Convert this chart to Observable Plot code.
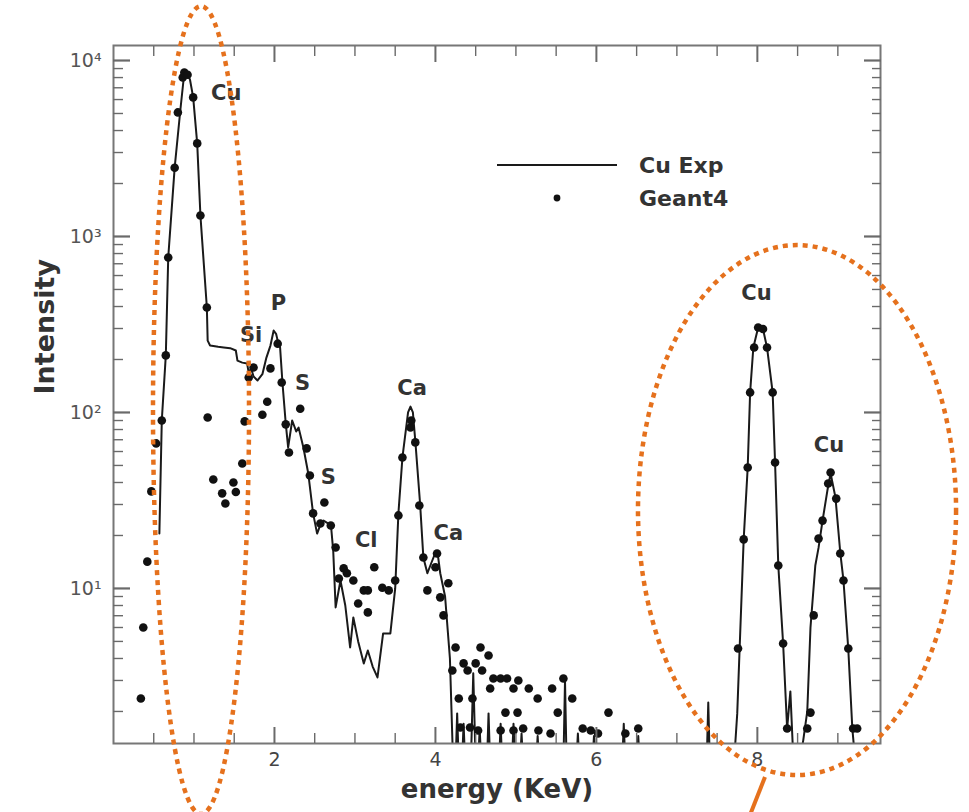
<!DOCTYPE html>
<html><head><meta charset="utf-8">
<script src="https://cdn.jsdelivr.net/npm/d3@7"></script>
<script src="https://cdn.jsdelivr.net/npm/@observablehq/plot@0.6"></script>
<style>
html,body{margin:0;padding:0;background:#fff;}
#wrap{position:relative;width:969px;height:812px;overflow:hidden;}
#wrap svg{position:absolute;left:0;top:0;}
</style></head><body><div id="wrap"></div>
<script>
// Series: experimental Cu spectrum (line) — [energy keV, intensity]
const cuExp = [[0.57,20.5],[0.60,90],[0.65,211],[0.68,760],[0.76,2460],[0.83,5200],[0.88,8550],[0.92,8300],[0.95,7800],[0.99,6170],[1.04,3380],[1.08,1315],[1.16,395],[1.17,256],[1.20,240],[1.30,236],[1.37,234],[1.45,232],[1.52,225],[1.54,197],[1.60,192],[1.66,190],[1.68,168],[1.71,178],[1.74,160],[1.79,152],[1.85,165],[1.90,205],[1.95,240],[1.99,292],[2.02,280],[2.04,256],[2.07,234],[2.10,146],[2.14,86.7],[2.17,63.3],[2.22,90],[2.27,78],[2.30,82],[2.36,63],[2.42,45],[2.48,26.7],[2.53,20.5],[2.57,23],[2.61,24.3],[2.66,23.5],[2.70,23.4],[2.73,16.4],[2.76,7.8],[2.82,11.1],[2.88,8],[2.94,4.62],[2.98,6.84],[3.04,5],[3.11,3.75],[3.16,4.44],[3.22,3.6],[3.28,3.12],[3.35,5.55],[3.44,5.55],[3.50,10],[3.54,26.7],[3.59,55.5],[3.66,100],[3.69,108],[3.72,100],[3.75,69],[3.81,30],[3.85,15],[3.90,12.2],[3.95,14],[4.00,16],[4.03,15.5],[4.06,12.2],[4.12,9],[4.18,4],[4.22,1.0],[4.25,1.0],[4.27,1.95],[4.29,1.0],[4.33,1.0],[4.35,1.7],[4.37,1.0],[4.44,1.0],[4.47,3.3],[4.50,1.0],[4.53,1.0],[4.55,1.6],[4.57,1.0],[4.64,1.0],[4.66,1.95],[4.68,1.0],[4.79,1.0],[4.81,1.7],[4.83,1.0],[4.95,1.0],[4.97,1.7],[4.99,1.0],[5.05,1.0],[5.07,1.5],[5.09,1.0],[5.25,1.0],[5.27,1.45],[5.29,1.0],[5.59,1.0],[5.61,3.0],[5.63,1.0],[5.75,1.0],[5.77,1.5],[5.79,1.0],[5.95,1.0],[5.97,1.45],[5.99,1.0],[6.32,1.0],[6.34,1.7],[6.36,1.0],[6.50,1.0],[6.52,1.45],[6.54,1.0],[7.37,1.0],[7.39,2.25],[7.41,1.0],[7.66,1.0],[7.69,1.3],[7.72,1.2],[7.75,1.95],[7.78,4.6],[7.83,19],[7.88,48.7],[7.91,130],[7.95,234],[8.01,304],[8.07,298],[8.12,234],[8.19,130],[8.22,52],[8.26,13.5],[8.32,4.87],[8.37,1.6],[8.41,2.6],[8.45,1.0],[8.52,1.0],[8.57,1.37],[8.62,2.0],[8.66,6.0],[8.72,13.5],[8.76,17],[8.81,24.3],[8.87,36],[8.91,45],[8.97,33],[9.03,16],[9.07,11.1],[9.13,4.5],[9.18,1.6],[9.22,1.0]];

// Series: Geant4 simulation (points) — [energy keV, intensity]
const geant4 = [[0.34,2.37],[0.37,6.0],[0.42,14.2],[0.47,35.6],[0.53,66.7],[0.60,90],[0.65,211],[0.68,760],[0.76,2460],[0.80,5070],[0.86,8000],[0.88,8550],[0.92,8300],[0.99,6170],[1.04,3380],[1.08,1315],[1.16,395],[1.17,93.7],[1.24,41.6],[1.35,34.7],[1.39,30.4],[1.49,40],[1.52,35.3],[1.60,51.3],[1.63,89],[1.68,158],[1.74,180],[1.85,97],[1.91,115],[1.95,178],[2.04,246],[2.09,148],[2.14,85.6],[2.18,59.2],[2.32,105],[2.40,62.5],[2.44,43.8],[2.48,26.7],[2.57,23.4],[2.62,30.8],[2.70,22.8],[2.76,17.1],[2.80,11.4],[2.86,13.0],[2.90,12.2],[2.98,11.1],[3.04,8.22],[3.11,9.75],[3.16,9.75],[3.16,7.31],[3.24,13.2],[3.34,10.1],[3.42,9.75],[3.50,11.1],[3.54,26],[3.59,55.5],[3.69,82.2],[3.70,90],[3.75,67.6],[3.80,29.6],[3.85,15],[3.90,9.75],[4.00,13.2],[4.02,15.8],[4.06,8.9],[4.10,7.03],[4.16,10.7],[4.21,3.42],[4.25,4.62],[4.29,2.37],[4.31,1.62],[4.35,3.75],[4.40,3.42],[4.43,1.62],[4.46,2.37],[4.50,3.75],[4.53,1.56],[4.56,4.62],[4.58,3.42],[4.66,4.16],[4.68,2.70],[4.72,3.08],[4.81,3.08],[4.81,1.56],[4.87,1.97],[4.89,3.08],[4.97,2.70],[4.97,1.56],[5.02,1.97],[5.03,3.0],[5.09,1.60],[5.16,2.70],[5.27,2.37],[5.28,1.56],[5.43,1.50],[5.45,2.70],[5.52,1.97],[5.59,3.08],[5.70,2.37],[5.83,1.60],[5.93,1.56],[6.02,1.50],[6.15,1.97],[6.36,1.50],[6.52,1.60],[7.76,4.56],[7.83,19],[7.88,48.7],[7.91,130],[7.96,234],[8.01,304],[8.07,298],[8.12,234],[8.19,130],[8.22,52],[8.26,13.5],[8.32,4.87],[8.37,1.6],[8.62,1.6],[8.66,1.97],[8.70,7.03],[8.76,19.2],[8.81,24.3],[8.88,39.5],[8.91,45.6],[8.98,32.4],[9.03,15.8],[9.07,11.1],[9.13,4.56],[9.19,1.6],[9.24,1.6]];

// Peak annotations
const peakNames = ["Cu","Si","P","S","S","Ca","Cl","Ca","Cu","Cu"];
const peakEnergy = [1.40,1.71,2.05,2.35,2.67,3.71,3.14,4.16,7.99,8.89];
const peakIntensity = [6490,274,416,146,42.7,137,18.7,20.5,474,64.9];

// Axes
const xMajor = [2,4,6,8];
const xMinor = [0.5,1,1.5,2.5,3,3.5,4.5,5,5.5,6.5,7,7.5,8.5,9];
const yMajor = [10,100,1000,10000];
const yMinor = [2,3,4,5,6,7,8,9,20,30,40,50,60,70,80,90,200,300,400,500,600,700,800,900,2000,3000,4000,5000,6000,7000,8000,9000];
const xLabel = "energy (KeV)";
const yLabel = "Intensity";
const seriesNames = ["Cu Exp","Geant4"];

// Highlight ellipses (energy range, intensity range) and pointer segment
const ellipseEnergy = [[0.497,1.690],[6.523,10.475]];
const ellipseIntensity = [[20240,0.519],[888,0.865]];
const pointerEnergy = [8.101,7.915];
const pointerIntensity = [0.843,0.513];

const sup = {1:"\u00b9",2:"\u00b2",3:"\u00b3",4:"\u2074"};
const font = "'DejaVu Sans', sans-serif";
const lineData = cuExp.map(([e,v]) => ({e, v}));
const dotData = geant4.map(([e,v]) => ({e, v}));
const peakData = peakNames.map((n,i) => ({n, e: peakEnergy[i], v: peakIntensity[i]}));

const tickStyle = {fill: "none", stroke: "#6a6a6a", label: null};
const chart = Plot.plot({
  width: 969, height: 812,
  marginLeft: 113, marginRight: 89, marginTop: 45, marginBottom: 69,
  style: {background: "white", fontFamily: font, overflow: "visible"},
  x: {domain: [0, 9.53]},
  y: {type: "log", domain: [1.315, 12170]},
  marks: [
    Plot.line(lineData, {x: "e", y: "v", stroke: "#1a1a1a", strokeWidth: 2, clip: true}),
    Plot.dot(dotData, {x: "e", y: "v", r: 4.3, fill: "#111", stroke: "none", clip: true}),
    Plot.text(peakData, {x: "e", y: "v", text: "n", fontSize: 21, fontWeight: "bold", fill: "#333"}),
    Plot.frame({stroke: "#777", strokeWidth: 2}),
    Plot.axisY(yMajor, {anchor: "left", tickSize: 0, tickPadding: 12, tickFormat: d => "10" + sup[Math.round(Math.log10(d))], fontSize: 19, fill: "#555", label: null}),
    Plot.axisY(yMajor, {anchor: "left", tickSize: -17, strokeWidth: 2.2, ...tickStyle}),
    Plot.axisY(yMinor, {anchor: "left", tickSize: -10, strokeWidth: 1.4, ...tickStyle}),
    Plot.axisY(yMajor, {anchor: "right", tickSize: -17, strokeWidth: 2.2, ...tickStyle}),
    Plot.axisY(yMinor, {anchor: "right", tickSize: -9, strokeWidth: 1.4, ...tickStyle}),
    Plot.axisX(xMajor, {anchor: "bottom", tickSize: 0, tickPadding: 9, fontSize: 19, fill: "#444", label: null}),
    Plot.axisX(xMajor, {anchor: "bottom", tickSize: -16, strokeWidth: 2, ...tickStyle}),
    Plot.axisX(xMinor, {anchor: "bottom", tickSize: -10, strokeWidth: 1.4, ...tickStyle}),
    Plot.axisX(xMajor, {anchor: "top", tickSize: -16, strokeWidth: 2, ...tickStyle}),
    Plot.axisX(xMinor, {anchor: "top", tickSize: -10, strokeWidth: 1.4, ...tickStyle}),
    Plot.text([xLabel], {text: d => d, frameAnchor: "bottom", dy: 54, fontSize: 26, fontWeight: "bold", fill: "#333"}),
    Plot.text([yLabel], {text: d => d, frameAnchor: "left", dx: -68, rotate: -90, fontSize: 27, fontWeight: "bold", fill: "#333"})
  ]
});
const wrap = document.getElementById("wrap");
wrap.appendChild(chart);

const sx = chart.scale("x"), sy = chart.scale("y");
const ov = d3.select(wrap).append("svg").attr("width", 969).attr("height", 812)
  .style("pointer-events", "none").style("font-family", font);

// legend
const lg = ov.append("g");
lg.append("line").attr("x1", 497).attr("x2", 617).attr("y1", 165).attr("y2", 165).attr("stroke", "#1a1a1a").attr("stroke-width", 2.2);
lg.append("circle").attr("cx", 557).attr("cy", 198).attr("r", 3.4).attr("fill", "#111");
lg.selectAll("text").data(seriesNames).join("text")
  .attr("x", 639).attr("y", (d, i) => 165 + i * 33).attr("dy", "0.36em")
  .attr("font-size", 22).attr("font-weight", "bold").attr("fill", "#333").text(d => d);

// orange highlight ellipses
const orange = "#e5711d";
ellipseEnergy.forEach((er, i) => {
  const x0 = sx.apply(er[0]), x1 = sx.apply(er[1]);
  const y0 = sy.apply(ellipseIntensity[i][0]), y1 = sy.apply(ellipseIntensity[i][1]);
  ov.append("ellipse").attr("cx", (x0 + x1) / 2).attr("cy", (y0 + y1) / 2)
    .attr("rx", Math.abs(x1 - x0) / 2).attr("ry", Math.abs(y1 - y0) / 2)
    .attr("fill", "none").attr("stroke", orange).attr("stroke-width", 4.5).attr("stroke-dasharray", "5 5");
});
ov.append("line")
  .attr("x1", sx.apply(pointerEnergy[0])).attr("y1", sy.apply(pointerIntensity[0]))
  .attr("x2", sx.apply(pointerEnergy[1])).attr("y2", sy.apply(pointerIntensity[1]))
  .attr("stroke", orange).attr("stroke-width", 4);
</script></body></html>
